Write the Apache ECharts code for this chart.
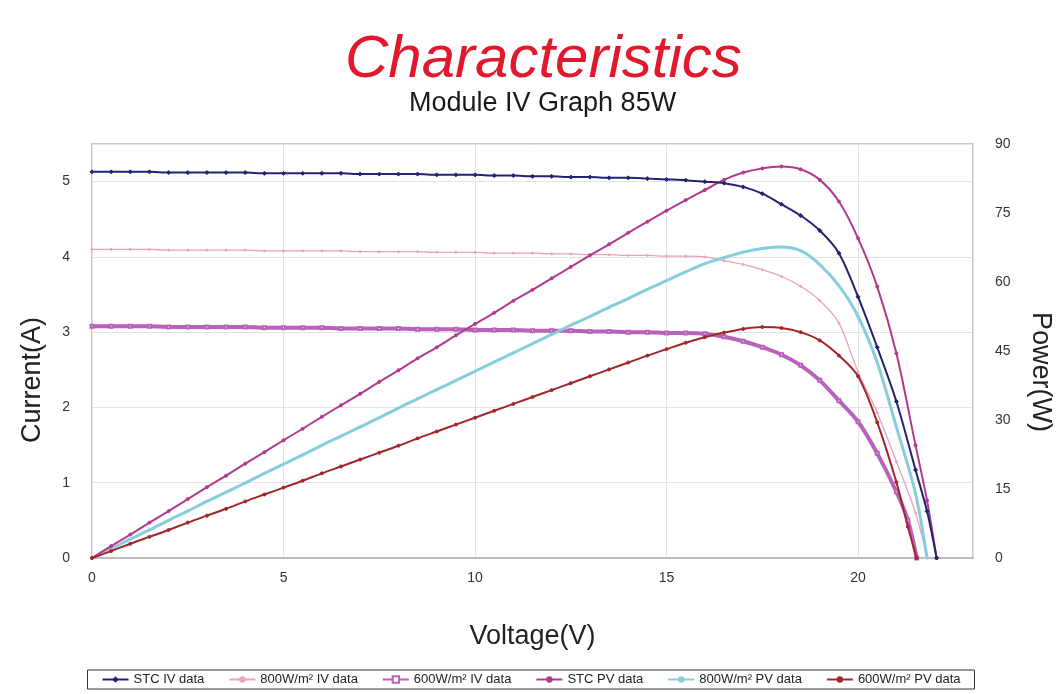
<!DOCTYPE html>
<html>
<head>
<meta charset="utf-8">
<script src="https://cdn.jsdelivr.net/npm/echarts@6/dist/echarts.min.js"></script>
<style>
html,body{margin:0;padding:0;background:#fff;}
#main{width:1062px;height:694px;}
</style>
</head>
<body>
<div id="main"></div>
<script>
// ---------- data ----------
const voltsFlat = [0,0.5,1,1.5,2,2.5,3,3.5,4,4.5,5,5.5,6,6.5,7,7.5,8,8.5,9,9.5,10,10.5,11,11.5,12,12.5,13,13.5,14,14.5,15,15.5,16];

const stcTailV = [16.5,17,17.5,18,18.5,19,19.5,20,20.5,21,21.5,21.8,22.05];
const irr800TailV = [16.5,17,17.5,18,18.5,19,19.5,20,20.5,21,21.5,21.8];
const irr600TailV = [16.5,17,17.5,18,18.5,19,19.5,20,20.5,21,21.3,21.53];

const stcIV = [5.13,5.13,5.13,5.13,5.12,5.12,5.12,5.12,5.12,5.11,5.11,5.11,5.11,5.11,5.10,5.10,5.10,5.10,5.09,5.09,5.09,5.08,5.08,5.07,5.07,5.06,5.06,5.05,5.05,5.04,5.03,5.02,5.00,
  4.98,4.93,4.84,4.70,4.55,4.35,4.05,3.47,2.80,2.08,1.17,0.62,0];
const irr800IV = [4.10,4.10,4.10,4.10,4.09,4.09,4.09,4.09,4.09,4.08,4.08,4.08,4.08,4.08,4.07,4.07,4.07,4.07,4.06,4.06,4.06,4.05,4.05,4.05,4.04,4.04,4.03,4.03,4.02,4.02,4.01,4.01,4.00,
  3.95,3.90,3.83,3.74,3.61,3.42,3.12,2.47,1.93,1.28,0.60,0];
const irr600IV = [3.08,3.08,3.08,3.08,3.07,3.07,3.07,3.07,3.07,3.06,3.06,3.06,3.06,3.05,3.05,3.05,3.05,3.04,3.04,3.04,3.03,3.03,3.03,3.02,3.02,3.02,3.01,3.01,3.00,3.00,2.99,2.99,2.98,
  2.94,2.88,2.80,2.70,2.56,2.36,2.09,1.81,1.39,0.88,0.50,0];

const stcPV = [0,2.6,5.1,7.7,10.2,12.8,15.4,17.9,20.5,23.0,25.6,28.1,30.7,33.2,35.7,38.3,40.8,43.4,45.8,48.4,50.9,53.3,55.9,58.3,60.8,63.3,65.8,68.2,70.7,73.1,75.5,77.8,80.0,
  82.2,83.8,84.7,85.1,84.5,82.2,77.5,69.5,59.0,44.5,24.5,12.5,0];
const irr800PV = [0,2.0,4.1,6.1,8.2,10.2,12.3,14.3,16.3,18.4,20.4,22.4,24.5,26.5,28.5,30.5,32.6,34.6,36.6,38.6,40.6,42.6,44.6,46.6,48.6,50.6,52.5,54.5,56.4,58.4,60.3,62.2,64.0,
  65.3,66.5,67.3,67.6,66.8,63.8,59.2,52.5,42.5,28.5,14.0,0];
const irr600PV = [0,1.5,3.1,4.6,6.1,7.7,9.2,10.7,12.3,13.8,15.3,16.8,18.4,19.9,21.4,22.9,24.4,26.0,27.5,29.0,30.5,32.0,33.5,35.0,36.5,38.0,39.5,41.0,42.5,44.0,45.4,46.8,48.0,
  49.0,49.8,50.2,50.0,49.1,47.3,44.0,39.5,29.5,16.5,6.8,0];

const seriesNames = ['STC IV data','800W/m² IV data','600W/m² IV data','STC PV data','800W/m² PV data','600W/m² PV data'];
const xTicks = [0,5,10,15,20];

// ---------- build ----------
function pairs(vs, ys){ return ys.map((y,i)=>[vs[i], y]); }
const stcV = voltsFlat.concat(stcTailV);
const v800 = voltsFlat.concat(irr800TailV);
const v600 = voltsFlat.concat(irr600TailV);

const chart = echarts.init(document.getElementById('main'), null, {renderer:'canvas'});
const font = 'Liberation Sans, Arial, Helvetica, sans-serif';

function line(name, data, yIdx, color, width, symbol, size, z){
  return {
    name, type:'line', yAxisIndex:yIdx, data, smooth:0.3,
    symbol, symbolSize:size, showSymbol:true,
    lineStyle:{color, width}, itemStyle:{color, borderColor:color},
    z: z||2, animation:false
  };
}

chart.setOption({
  backgroundColor:'#ffffff',
  animation:false,
  title:[
    {text:'Characteristics', left:340, top:25,
     textStyle:{fontFamily:font, fontStyle:'italic', fontWeight:'normal', fontSize:60, color:'#e2192c'}},
    {text:'Module IV Graph 85W', left:404, top:85,
     textStyle:{fontFamily:font, fontWeight:'normal', fontSize:27, color:'#1a1a1a'}}
  ],
  grid:{left:92, right:85, top:144, bottom:136, show:true, borderColor:'#c8c8c8', borderWidth:2, backgroundColor:'#fff'},
  legend:{
    data:seriesNames, bottom:5, left:'center',
    borderColor:'#333', borderWidth:1, borderRadius:0,
    padding:[3,14], itemGap:24, itemWidth:26, itemHeight:8,
    textStyle:{fontFamily:font, fontSize:13, color:'#222'}
  },
  xAxis:{
    type:'value', min:0, max:23, interval:5,
    name:'Voltage(V)', nameLocation:'middle', nameGap:65,
    nameTextStyle:{fontFamily:font, fontSize:27, color:'#222'},
    axisLine:{show:true, lineStyle:{color:'#bdbdbd', width:2}},
    axisTick:{show:false},
    axisLabel:{fontFamily:font, fontSize:14, color:'#333', margin:13,
      formatter:v=> xTicks.indexOf(v)>=0 ? String(v) : ''},
    splitLine:{show:true, lineStyle:{color:'#e3e3e3', width:1}}
  },
  yAxis:[
    {type:'value', min:0, max:5.5, interval:1, position:'left',
     name:'Current(A)', nameLocation:'middle', nameGap:46, nameRotate:90,
     nameTextStyle:{fontFamily:font, fontSize:27, color:'#222', padding:[0,58,0,0]},
     axisLine:{show:false}, axisTick:{show:false},
     axisLabel:{fontFamily:font, fontSize:14, color:'#333', margin:22,
       formatter:v=> Number.isInteger(v) ? String(v) : ''},
     splitLine:{show:true, lineStyle:{color:'#e3e3e3', width:1}}},
    {type:'value', min:0, max:90, interval:15, position:'right',
     name:'Power(W)', nameLocation:'middle', nameGap:54, nameRotate:-90,
     nameTextStyle:{fontFamily:font, fontSize:27, color:'#222', padding:[0,0,0,42]},
     axisLine:{show:false}, axisTick:{show:false},
     axisLabel:{fontFamily:font, fontSize:14, color:'#333', margin:22},
     splitLine:{show:false}}
  ],
  series:[
    line(seriesNames[0], pairs(stcV, stcIV), 0, '#24236f', 2, 'diamond', 4, 5),
    line(seriesNames[1], pairs(v800, irr800IV), 0, '#eaa3ba', 1.3, 'circle', 2, 3),
    line(seriesNames[2], pairs(v600, irr600IV), 0, '#b862bc', 4, 'emptyRect', 3, 2),
    line(seriesNames[3], pairs(stcV, stcPV), 1, '#b23a8e', 2, 'circle', 3, 4),
    line(seriesNames[4], pairs(v800, irr800PV), 1, '#86cedb', 3, 'circle', 2, 3),
    line(seriesNames[5], pairs(v600, irr600PV), 1, '#a2272a', 2, 'circle', 3, 4)
  ]
});
</script>
</body>
</html>
